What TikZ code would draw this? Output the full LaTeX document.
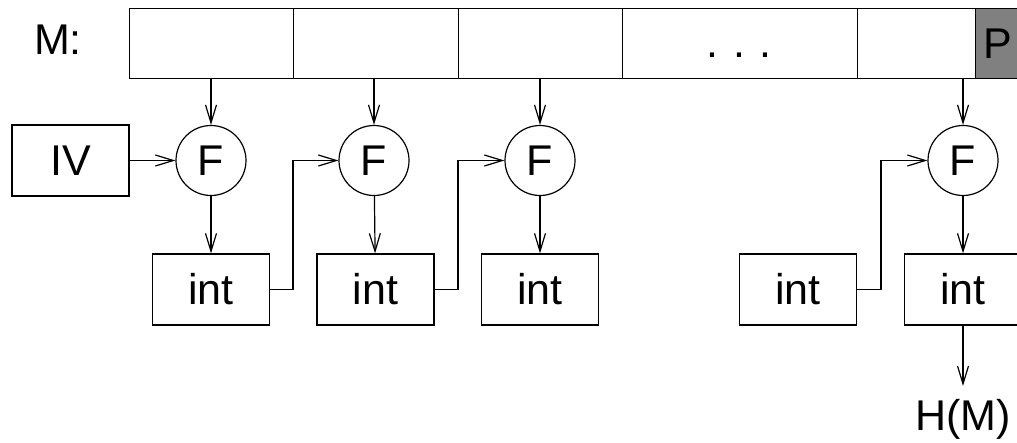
\documentclass[tikz,border=0pt]{standalone}
\usepackage{fontspec}
\setmainfont{Liberation Sans}
\usetikzlibrary{arrows.meta}
\begin{document}
\begin{tikzpicture}[x=1pt,y=-1pt,line width=1.2pt,
  every node/.style={font=\fontsize{43}{50}\selectfont,inner sep=0pt},
  cell/.style={draw,minimum height=70pt,anchor=north west},
  box/.style={draw,minimum width=117pt,minimum height=71pt},
  fbox/.style={draw,circle,minimum size=70pt},
  arr/.style={-{Straight Barb[length=18pt,width=11pt]}}]
\clip (0,0) rectangle (1017,442);
\useasboundingbox (0,0) rectangle (1017,442);
% memory bar
\node (mlab) at (58,40) {M:};
\node[cell,minimum width=164pt] (c1) at (129,8) {};
\node[cell,minimum width=165pt] (c2) at (293,8) {};
\node[cell,minimum width=164pt] (c3) at (458,8) {};
\node[cell,minimum width=235pt] (c4) at (622,8) {};
\node[cell,minimum width=118pt] (c5) at (857,8) {};
\node[cell,minimum width=44pt,fill={rgb,255:red,128;green,128;blue,128}] (c6) at (975,8) {P};
\node[anchor=base] (dots) at (739,57) {.\,\,.\,\,.};
% IV
\node[box] (iv) at (70.5,160.5) {IV};
% F circles
\node[fbox] (f1) at (211,160.5) {F};
\node[fbox] (f2) at (374,160.5) {F};
\node[fbox] (f3) at (540,160.5) {F};
\node[fbox] (f4) at (963,160.5) {F};
% int boxes
\node[box] (i1) at (211,289.5) {int};
\node[box] (i2) at (375.5,289.5) {int};
\node[box] (i3) at (540,289.5) {int};
\node[box] (i4) at (798,289.5) {int};
\node[box] (i5) at (963,289.5) {int};
\node[anchor=base] (hm) at (963,430) {H(M)};
\coordinate (hmtop) at (963,386);
% connectors
\draw[arr] (f1 |- c1.south) -- (f1);
\draw[arr] (f2 |- c2.south) -- (f2);
\draw[arr] (f3 |- c3.south) -- (f3);
\draw[arr] (f4 |- c5.south) -- (f4);
\draw[arr] (iv) -- (f1);
\draw[arr] (f1) -- (i1);
\draw[arr] (f2) -- (i2);
\draw[arr] (f3) -- (i3);
\draw[arr] (f4) -- (i5);
\draw[arr] (i1.east) -- (293,289.5) |- (f2.west);
\draw[arr] (i2.east) -- (458,289.5) |- (f3.west);
\draw[arr] (i4.east) -- (881,289.5) |- (f4.west);
\draw[arr] (i5) -- (hmtop);
\end{tikzpicture}
\end{document}
